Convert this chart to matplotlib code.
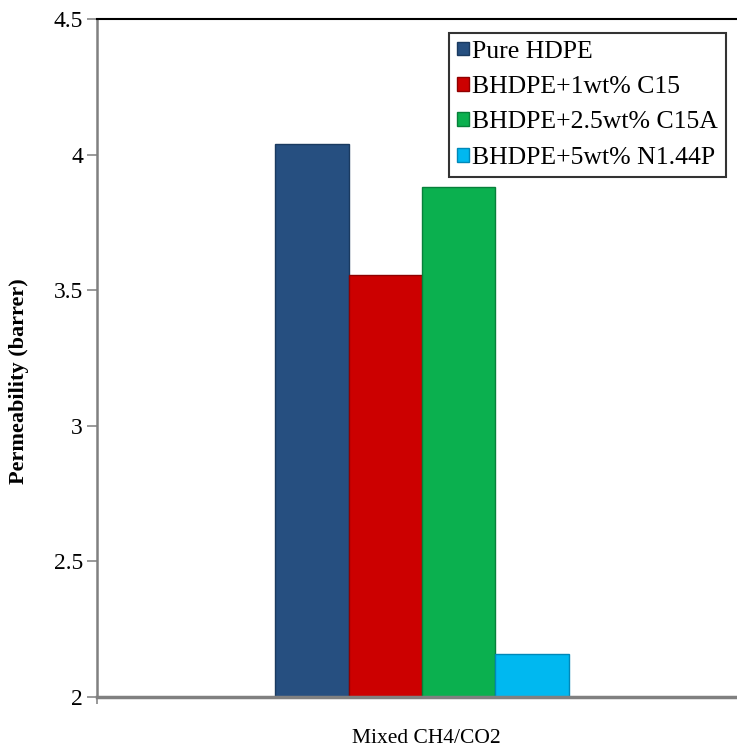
import matplotlib.pyplot as plt
import numpy as np

plt.rcParams['font.family'] = ['Liberation Serif', 'DejaVu Serif']

series = ['Pure HDPE', 'BHDPE+1wt% C15', 'BHDPE+2.5wt% C15A', 'BHDPE+5wt% N1.44P']
values = [4.04, 3.555, 3.88, 2.16]
colors = ['#264F80', '#CC0000', '#0BB04F', '#00B8F0']
edges = ['#1A3A60', '#8F0000', '#07803A', '#0088B8']
category = 'Mixed CH4/CO2'

fig = plt.figure(figsize=(7.37, 7.49), dpi=100)
ax = fig.add_axes([97/737, 1 - 697/749, 1 - 97/737, (697 - 19)/749])

w = 0.1146
offsets = (np.arange(len(values)) - 1.5) * w + 0.008
for i in range(len(values)):
    ax.bar(offsets[i], values[i] - 2, bottom=2, width=w, color=colors[i],
           edgecolor=edges[i], linewidth=1.0, label=series[i])

ax.set_xlim(-0.5, 0.5)
ax.set_ylim(2, 4.5)
ax.set_yticks([2, 2.5, 3, 3.5, 4, 4.5])
ax.set_yticklabels(['2', '2.5', '3', '3.5', '4', '4.5'], fontsize=17)
ax.set_xticks([-0.5])
ax.set_xticklabels([''])
ax.tick_params(axis='y', direction='out', length=7, color='#888888', width=1.2, pad=3)
ax.tick_params(axis='x', direction='out', length=5, color='#888888', width=1.2)
ax.text((426 - 97) / (737 - 97), -0.047, category, transform=ax.transAxes,
        ha='center', va='top', fontsize=15.5)

ax.spines['right'].set_visible(False)
ax.spines['top'].set_color('black')
ax.spines['top'].set_linewidth(1.5)
ax.spines['left'].set_color('#808080')
ax.spines['left'].set_linewidth(1.8)
ax.spines['bottom'].set_color('#808080')
ax.spines['bottom'].set_linewidth(2.5)

ax.set_ylabel('Permeability (barrer)', fontsize=16, fontweight='bold')
ax.yaxis.set_label_coords(-0.106, 0.466)

leg = ax.legend(loc='upper right', bbox_to_anchor=((726 - 97) / 640, 1 - 14/678),
                fontsize=18.5, frameon=True, fancybox=False, handlelength=0.45,
                handleheight=0.45, handletextpad=0.15, borderpad=0.3, labelspacing=0.52,
                borderaxespad=0)
leg.get_frame().set_edgecolor('black')
leg.get_frame().set_linewidth(1.5)

fig.savefig('out.png', dpi=100)
